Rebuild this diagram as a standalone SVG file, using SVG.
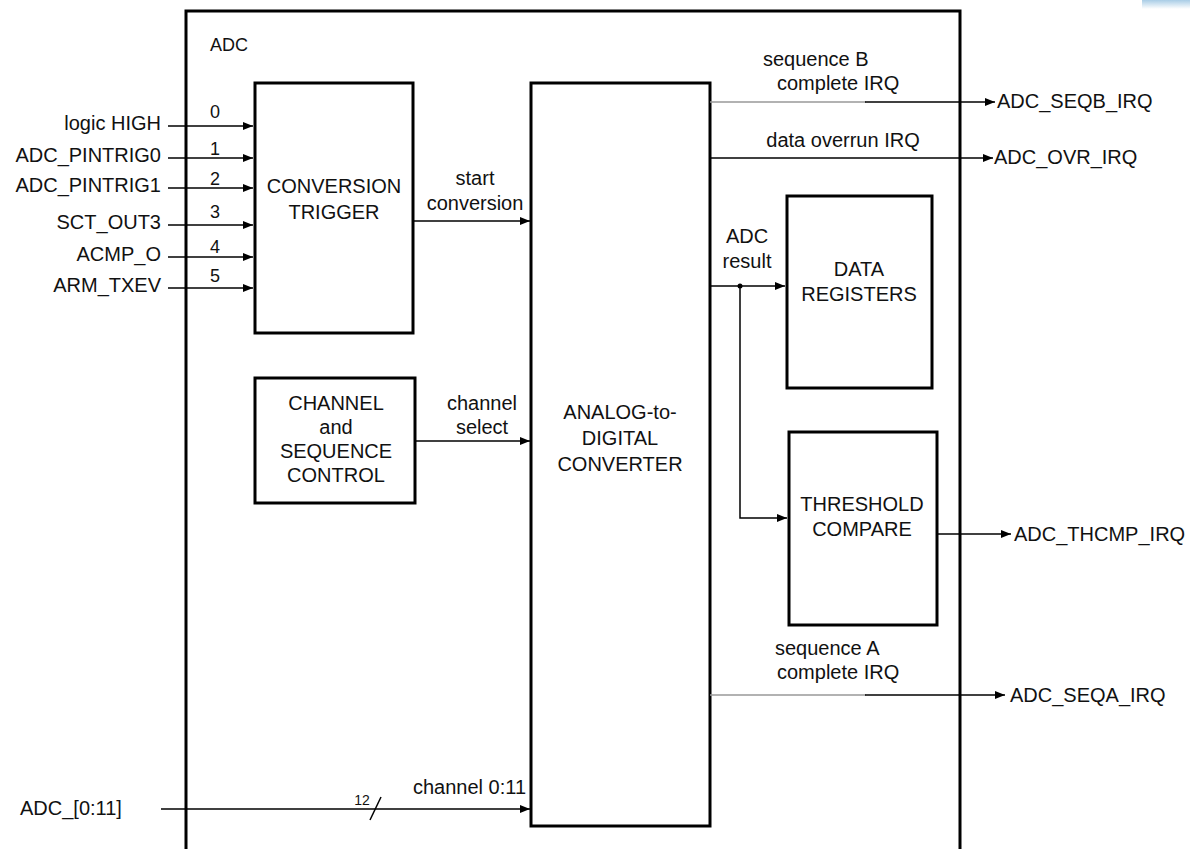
<svg xmlns="http://www.w3.org/2000/svg" width="1190" height="849" viewBox="0 0 1190 849">
<style>
text{font-family:"Liberation Sans",Arial,sans-serif;font-size:20px;fill:#111}
.box{fill:#fff;stroke:#000;stroke-width:3}
.w{stroke:#000;stroke-width:1.5;fill:none}
.g{stroke:#999;stroke-width:1.5;fill:none}
.m{text-anchor:middle}
.e{text-anchor:end}
.n{font-size:18px}
</style>
<defs>
<marker id="ah" viewBox="0 0 10 8" refX="10" refY="4" markerWidth="10" markerHeight="8" markerUnits="userSpaceOnUse" orient="auto">
<path d="M0,0 L10,4 L0,8 Z" fill="#000"/>
</marker>
<linearGradient id="bl" x1="0" y1="0" x2="0" y2="1">
<stop offset="0" stop-color="#a9cde6"/><stop offset="1" stop-color="#ffffff"/>
</linearGradient>
</defs>
<rect x="0" y="0" width="1190" height="849" fill="#fff"/>
<rect x="1142" y="0" width="48" height="9" fill="url(#bl)"/>

<g id="adc-block">
<path d="M186,860 L186,11 L960,11 L960,860" fill="none" stroke="#000" stroke-width="3"/>
<text x="210" y="51" style="font-size:18px">ADC</text>
</g>

<g id="conversion-trigger">
<rect class="box" x="255" y="83" width="158" height="250"/>
<text class="m" x="334" y="193">CONVERSION</text>
<text class="m" x="334" y="219">TRIGGER</text>
</g>

<g id="channel-sequence-control">
<rect class="box" x="255" y="378" width="160" height="125"/>
<text class="m" x="336" y="410">CHANNEL</text>
<text class="m" x="336" y="434">and</text>
<text class="m" x="336" y="458">SEQUENCE</text>
<text class="m" x="336" y="482">CONTROL</text>
</g>

<g id="adc-converter">
<rect class="box" x="531" y="83" width="179" height="743"/>
<text class="m" x="620" y="419">ANALOG-to-</text>
<text class="m" x="620" y="445">DIGITAL</text>
<text class="m" x="620" y="471">CONVERTER</text>
</g>

<g id="data-registers">
<rect class="box" x="787" y="196" width="145" height="192"/>
<text class="m" x="859" y="276">DATA</text>
<text class="m" x="859" y="301">REGISTERS</text>
</g>

<g id="threshold-compare">
<rect class="box" x="789" y="432" width="148" height="193"/>
<text class="m" x="862" y="511">THRESHOLD</text>
<text class="m" x="862" y="536">COMPARE</text>
</g>

<g id="inputs">
<text class="e" x="161" y="130">logic HIGH</text>
<text class="e" x="161" y="162">ADC_PINTRIG0</text>
<text class="e" x="161" y="192">ADC_PINTRIG1</text>
<text class="e" x="161" y="229">SCT_OUT3</text>
<text class="e" x="161" y="261">ACMP_O</text>
<text class="e" x="161" y="292">ARM_TXEV</text>
<text x="20" y="815">ADC_[0:11]</text>
</g>

<g id="outputs">
<text x="997" y="108">ADC_SEQB_IRQ</text>
<text x="994" y="164">ADC_OVR_IRQ</text>
<text x="1014" y="541">ADC_THCMP_IRQ</text>
<text x="1010" y="702">ADC_SEQA_IRQ</text>
</g>

<g id="connectors">
<line class="w" x1="168" y1="126" x2="253" y2="126" marker-end="url(#ah)"/>
<line class="w" x1="168" y1="158" x2="253" y2="158" marker-end="url(#ah)"/>
<line class="w" x1="168" y1="188" x2="253" y2="188" marker-end="url(#ah)"/>
<line class="w" x1="168" y1="225" x2="253" y2="225" marker-end="url(#ah)"/>
<line class="w" x1="168" y1="257" x2="253" y2="257" marker-end="url(#ah)"/>
<line class="w" x1="168" y1="288" x2="253" y2="288" marker-end="url(#ah)"/>
<text class="m n" x="215" y="118">0</text>
<text class="m n" x="215" y="155">1</text>
<text class="m n" x="215" y="185">2</text>
<text class="m n" x="215" y="218">3</text>
<text class="m n" x="215" y="253">4</text>
<text class="m n" x="215" y="282">5</text>

<line class="w" x1="413" y1="221" x2="530" y2="221" marker-end="url(#ah)"/>
<text class="m" x="475" y="185">start</text>
<text class="m" x="475" y="210">conversion</text>

<line class="w" x1="415" y1="441" x2="530" y2="441" marker-end="url(#ah)"/>
<text class="m" x="482" y="410">channel</text>
<text class="m" x="482" y="434">select</text>

<line class="w" x1="161" y1="809" x2="530" y2="809" marker-end="url(#ah)"/>
<line class="w" x1="370" y1="820" x2="381" y2="797"/>
<text class="m" x="362" y="805" style="font-size:14px">12</text>
<text x="413" y="794">channel 0:11</text>

<line class="g" x1="710" y1="102" x2="866" y2="102"/>
<line class="w" x1="865" y1="102" x2="995" y2="102" marker-end="url(#ah)"/>
<text x="763" y="66">sequence B</text>
<text x="777" y="90">complete IRQ</text>

<line class="w" x1="710" y1="158" x2="993" y2="158" marker-end="url(#ah)"/>
<text class="m" x="843" y="147">data overrun IRQ</text>

<line class="w" x1="710" y1="286" x2="785" y2="286" marker-end="url(#ah)"/>
<circle cx="740" cy="286" r="2.5" fill="#000"/>
<path class="w" d="M740,286 L740,518 L787,518" marker-end="url(#ah)"/>
<text class="m" x="747" y="243">ADC</text>
<text class="m" x="747" y="268">result</text>

<line class="w" x1="937" y1="534" x2="1011" y2="534" marker-end="url(#ah)"/>

<line class="g" x1="710" y1="695" x2="866" y2="695"/>
<line class="w" x1="865" y1="695" x2="1005" y2="695" marker-end="url(#ah)"/>
<text x="775" y="655">sequence A</text>
<text x="777" y="679">complete IRQ</text>
</g>
</svg>
